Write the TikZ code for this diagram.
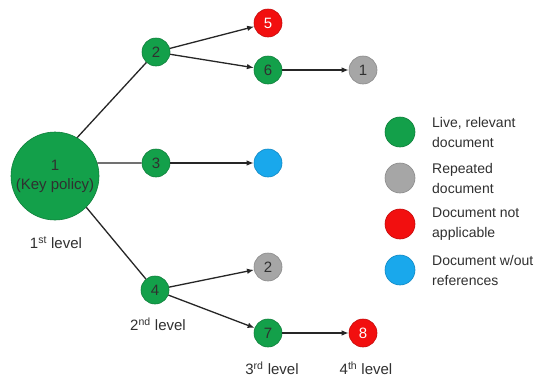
\documentclass[tikz,border=0pt]{standalone}
\usepackage{fontspec}
\setmainfont{Liberation Sans}
\usetikzlibrary{arrows.meta}
\definecolor{dgreen}{HTML}{13A04A}
\definecolor{dgreenb}{HTML}{0E7F3A}
\definecolor{dgray}{HTML}{A6A6A6}
\definecolor{dgrayb}{HTML}{8A8A8A}
\definecolor{dred}{HTML}{F20F0F}
\definecolor{dredb}{HTML}{C40A0A}
\definecolor{dblue}{HTML}{19A8EC}
\definecolor{dblueb}{HTML}{1088C4}
\definecolor{txt}{HTML}{303030}
\tikzset{
  doc/.style={circle, minimum size=28pt, inner sep=0pt, line width=0.6pt, font=\fontsize{15}{17}\selectfont, text=txt},
  live/.style={doc, fill=dgreen, draw=dgreenb},
  rep/.style={doc, fill=dgray, draw=dgrayb},
  na/.style={doc, fill=dred, draw=dredb, text=white},
  noref/.style={doc, fill=dblue, draw=dblueb},
  leg/.style={minimum size=30pt},
  legtext/.style={anchor=west, align=left, inner sep=0pt, font=\fontsize{14}{20}\selectfont, text=txt},
  lvl/.style={font=\fontsize{15}{17}\selectfont, text=txt},
  conn/.style={line width=1.3pt, draw=black!85},
  arr/.style={conn, -{Latex[length=7pt,width=5.5pt]}}
}
\begin{document}
\begin{tikzpicture}[x=1pt,y=-1pt]
\useasboundingbox (0,0) rectangle (548,378);
\fill[white] (0,0) rectangle (548,378);
% tree nodes
\node[live, minimum size=88pt, align=center, font=\fontsize{15}{19}\selectfont] (n1) at (55,176) {1\\(Key policy)};
\node[live] (n2) at (156,52) {2};
\node[live] (n3) at (156,163) {3};
\node[live] (n4) at (155,290) {4};
\node[na] (n5) at (268,23) {5};
\node[live] (n6) at (268,70) {6};
\node[noref] (nb) at (268,163) {};
\node[rep] (r2) at (268,267) {2};
\node[live] (n7) at (268,333) {7};
\node[rep] (r1) at (363,70) {1};
\node[na] (n8) at (363,333) {8};
% connectors
\draw[conn] (n1.60) -- (n2);
\draw[conn] (n1.17) -- (n3);
\draw[conn] (n1.-45) -- (n4);
\draw[arr] (n2) -- (n5);
\draw[arr] (n2) -- (n6);
\draw[arr] (n6) -- (r1);
\draw[arr] (n3) -- (nb);
\draw[arr] (n4) -- (r2);
\draw[arr] (n4) -- (n7);
\draw[arr] (n7) -- (n8);
% level labels
\node[lvl] (l1) at (56,243) {1\textsuperscript{st} level};
\node[lvl] (l2) at (158,324) {2\textsuperscript{nd} level};
\node[lvl] (l3) at (272,368) {3\textsuperscript{rd} level};
\node[lvl] (l4) at (366,368) {4\textsuperscript{th} level};
% legend
\node[live, leg] (g1) at (400,132) {};
\node[rep, leg] (g2) at (400,178) {};
\node[na, leg] (g3) at (400,224) {};
\node[noref, leg] (g4) at (400,270) {};
\node[legtext] (t1) at (432,132) {Live, relevant\\document};
\node[legtext] (t2) at (432,178) {Repeated\\document};
\node[legtext] (t3) at (432,224) {Document not\\applicable};
\node[legtext] (t4) at (432,270) {Document w/out\\references};
\end{tikzpicture}
\end{document}
